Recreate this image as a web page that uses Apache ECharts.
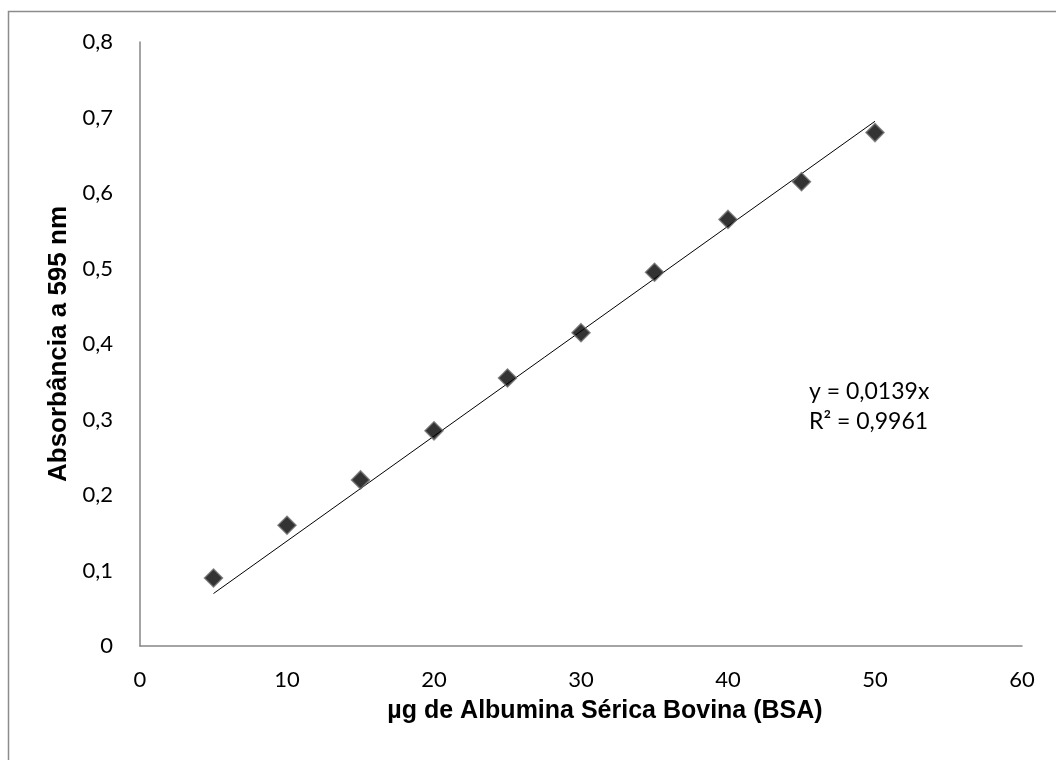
<!DOCTYPE html>
<html>
<head>
<meta charset="utf-8">
<script src="https://cdn.jsdelivr.net/npm/echarts@6/dist/echarts.min.js"></script>
<style>html,body{margin:0;padding:0;background:#fff;}#c{width:1056px;height:760px;}</style>
</head>
<body>
<div id="c"></div>
<script>
const xValues = [5, 10, 15, 20, 25, 30, 35, 40, 45, 50];
const absorbance = [0.09, 0.16, 0.22, 0.285, 0.355, 0.415, 0.495, 0.565, 0.615, 0.68];
const trendX = [5, 50];
const trendY = [0.0695, 0.695];
const xTitle = 'µg de Albumina Sérica Bovina (BSA)';
const yTitle = 'Absorbância a 595 nm';
const eqLines = ['y = 0,0139x', 'R² = 0,9961'];

const chart = echarts.init(document.getElementById('c'));
const labelFont = { fontFamily: 'Lato', fontSize: 22, color: '#000' };
const titleFont = { fontFamily: 'Liberation Sans', fontWeight: 'bold', fontSize: 25, color: '#000' };
chart.setOption({
  animation: false,
  backgroundColor: '#fff',
  grid: { left: 140, right: 34, top: 42, bottom: 114 },
  xAxis: {
    type: 'value', min: 0, max: 60, interval: 10,
    name: xTitle, nameLocation: 'middle', nameGap: 53,
    nameTextStyle: Object.assign({ padding: [0, 0, 0, 48] }, titleFont),
    axisLine: { show: true, lineStyle: { color: '#868686', width: 1.5 } },
    axisTick: { show: false },
    splitLine: { show: false },
    axisLabel: Object.assign({ margin: 23 }, labelFont)
  },
  yAxis: {
    type: 'value', min: 0, max: 0.8, interval: 0.1,
    name: yTitle, nameLocation: 'middle', nameGap: 59,
    nameTextStyle: Object.assign({}, titleFont, { fontSize: 26 }),
    axisLine: { show: true, lineStyle: { color: '#868686', width: 1.5 } },
    axisTick: { show: false },
    splitLine: { show: false },
    axisLabel: Object.assign({ margin: 27, formatter: v => String(+v.toFixed(1)).replace('.', ',') }, labelFont)
  },
  series: [
    {
      type: 'line',
      data: trendX.map((x, i) => [x, trendY[i]]),
      symbol: 'none',
      lineStyle: { color: '#000', width: 1 },
      silent: true, z: 1
    },
    {
      type: 'scatter',
      data: xValues.map((x, i) => [x, absorbance[i]]),
      symbol: 'diamond',
      symbolSize: [18, 18],
      itemStyle: { color: '#000', borderColor: '#6e6e6e', borderWidth: 1.5 },
      z: 2
    }
  ],
  graphic: [
    { type: 'rect', shape: { x: 8.5, y: 11.5, width: 1200, height: 900 }, style: { fill: 'none', stroke: '#8c8c8c', lineWidth: 1.5 }, silent: true },
    { type: 'text', left: 809, top: 377, style: { text: eqLines.join('\n'), fontFamily: 'Lato', fontSize: 23, lineHeight: 30, fill: '#000' } }
  ]
});
</script>
</body>
</html>
